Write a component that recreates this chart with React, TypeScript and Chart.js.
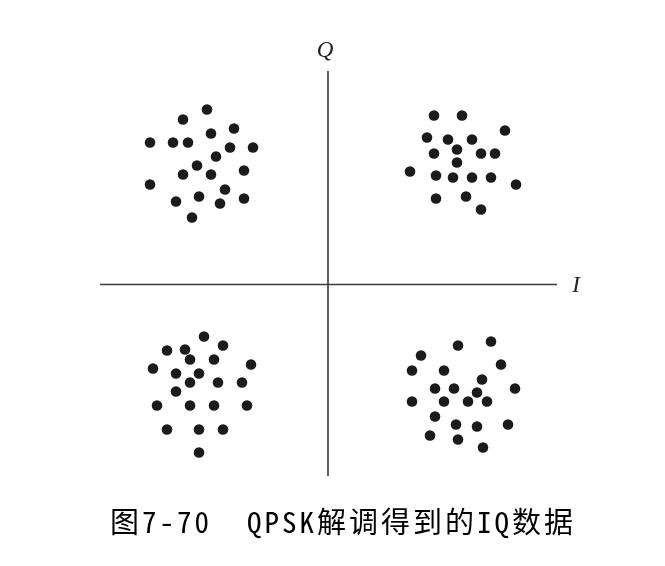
import React, { useEffect, useRef } from "react";
import { Chart, registerables } from "chart.js";

Chart.register(...registerables);

// I/Q samples (I = in-phase, Q = quadrature)
const q1I = [-1.21, -1.45, -1.17, -0.94, -1.78, -1.55, -1.40, -0.98, -0.75, -1.12, -1.31, -1.45, -1.17, -0.84, -1.78, -1.03, -1.29, -1.52, -1.08, -0.84, -1.36];
const q1Q = [1.75, 1.65, 1.51, 1.56, 1.42, 1.42, 1.42, 1.37, 1.37, 1.28, 1.19, 1.10, 1.10, 1.14, 1.00, 0.95, 0.88, 0.83, 0.81, 0.86, 0.67];

const q2I = [1.06, 1.34, 1.77, 0.99, 1.20, 1.44, 1.29, 1.06, 1.53, 1.67, 1.29, 0.82, 1.08, 1.25, 1.44, 1.63, 1.88, 1.08, 1.38, 1.53];
const q2Q = [1.69, 1.69, 1.54, 1.47, 1.45, 1.45, 1.35, 1.31, 1.31, 1.31, 1.22, 1.13, 1.09, 1.07, 1.07, 1.07, 1.00, 0.86, 0.88, 0.75];

const q3I = [-1.24, -1.05, -1.61, -1.43, -1.38, -1.14, -1.75, -0.77, -1.52, -1.29, -1.38, -1.10, -0.86, -1.52, -1.71, -1.38, -1.14, -0.81, -1.61, -1.29, -1.05, -1.29];
const q3Q = [-0.52, -0.61, -0.66, -0.65, -0.75, -0.75, -0.84, -0.80, -0.89, -0.89, -0.98, -0.98, -0.98, -1.07, -1.21, -1.21, -1.21, -1.21, -1.45, -1.45, -1.45, -1.68];

const q4I = [1.30, 1.63, 0.93, 0.84, 1.16, 1.73, 1.54, 1.07, 1.26, 1.87, 1.49, 0.84, 1.16, 1.40, 1.59, 1.07, 1.28, 1.49, 1.80, 1.02, 1.30, 1.55];
const q4Q = [-0.61, -0.57, -0.71, -0.86, -0.86, -0.80, -0.95, -1.04, -1.04, -1.04, -1.08, -1.17, -1.17, -1.17, -1.17, -1.32, -1.40, -1.42, -1.40, -1.51, -1.55, -1.63];

const axisIRange = [-2.28, 2.29];
const axisQRange = [-1.915, 2.135];
const axisLabels = ["I", "Q"];
const captionText = "图7-70  QPSK解调得到的IQ数据";

const zip = (xs: number[], ys: number[]) => xs.map((x, i) => ({ x, y: ys[i] }));

const axesPlugin = {
  id: "iqAxes",
  beforeDatasetsDraw(chart: any) {
    const { ctx, chartArea, scales } = chart;
    const x0 = scales.x.getPixelForValue(0);
    const y0 = scales.y.getPixelForValue(0);
    ctx.save();
    ctx.strokeStyle = "#3a3a3a";
    ctx.lineWidth = 1.6;
    ctx.beginPath();
    ctx.moveTo(x0, chartArea.top);
    ctx.lineTo(x0, chartArea.bottom);
    ctx.moveTo(chartArea.left, y0);
    ctx.lineTo(chartArea.right, y0);
    ctx.stroke();
    ctx.fillStyle = "#222";
    ctx.font = "italic 23px 'Liberation Serif', 'DejaVu Serif', serif";
    ctx.textAlign = "center";
    ctx.textBaseline = "middle";
    ctx.fillText(axisLabels[1], x0 - 3, chartArea.top - 20);
    ctx.fillText(axisLabels[0], chartArea.right + 19, y0 + 1);
    ctx.restore();
  },
};

export default function App() {
  const ref = useRef<HTMLCanvasElement | null>(null);

  useEffect(() => {
    if (!ref.current) return;
    const pointStyle = {
      backgroundColor: "#1b1b1b",
      borderColor: "#1b1b1b",
      borderWidth: 0,
      pointRadius: 5.3,
      pointHoverRadius: 5.3,
    };
    const chart = new Chart(ref.current, {
      type: "scatter",
      data: {
        datasets: [
          { label: "Q1", data: zip(q1I, q1Q), ...pointStyle },
          { label: "Q2", data: zip(q2I, q2Q), ...pointStyle },
          { label: "Q3", data: zip(q3I, q3Q), ...pointStyle },
          { label: "Q4", data: zip(q4I, q4Q), ...pointStyle },
        ],
      },
      options: {
        animation: false,
        responsive: false,
        layout: { padding: { left: 100, right: 108, top: 71, bottom: 90 } },
        scales: {
          x: { type: "linear", display: false, min: axisIRange[0], max: axisIRange[1] },
          y: { type: "linear", display: false, min: axisQRange[0], max: axisQRange[1] },
        },
        plugins: {
          legend: { display: false },
          tooltip: { enabled: false },
          title: { display: false },
        },
      },
      plugins: [axesPlugin],
    });
    return () => chart.destroy();
  }, []);

  return (
    <div style={{ position: "fixed", left: 0, top: 0, width: 665, height: 566, background: "#fff" }}>
      <canvas ref={ref} width={665} height={566} style={{ display: "block" }} />
      <div
        style={{
          position: "absolute",
          left: 110,
          top: 501,
          fontFamily: "'Noto Sans Mono CJK SC', 'Noto Sans CJK SC', sans-serif",
          fontSize: 29,
          fontWeight: 500,
          lineHeight: "38px",
          letterSpacing: "3px",
          whiteSpace: "pre",
          color: "#000",
        }}
      >
        {captionText}
      </div>
    </div>
  );
}
